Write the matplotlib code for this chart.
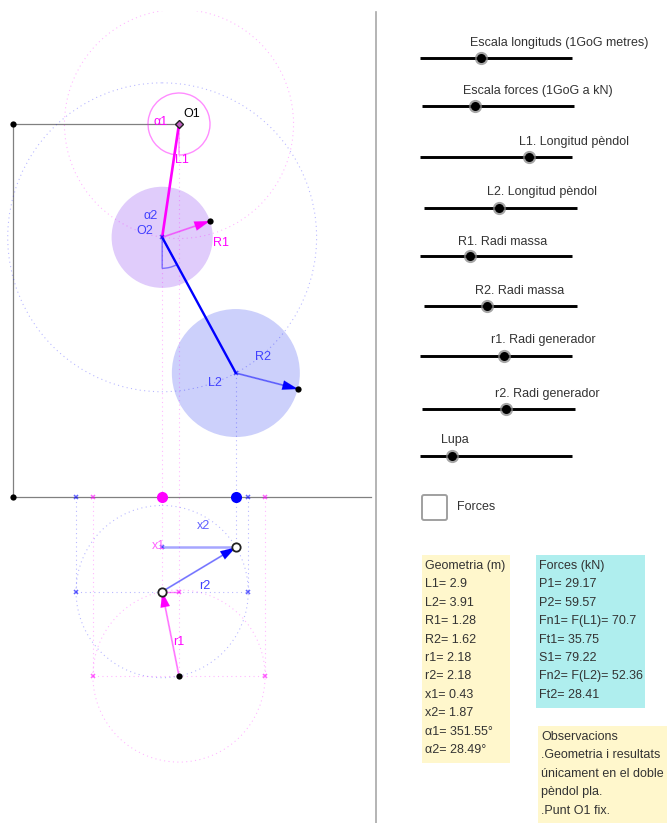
import numpy as np
from matplotlib import pyplot as plt
from matplotlib.patches import Circle, Rectangle, FancyArrowPatch, FancyBboxPatch, Wedge

plt.rcParams['font.family'] = ['Liberation Sans', 'DejaVu Sans']

# valors del pendol (llegits de les caixes)
L1, L2 = 2.9, 3.91
R1, R2 = 1.28, 1.62
r1, r2 = 2.18, 2.18
x1, x2 = 0.43, 1.87
alpha1, alpha2 = 351.55, 28.49

geometria = ['Geometria (m)', 'L1= 2.9', 'L2= 3.91', 'R1= 1.28', 'R2= 1.62', 'r1= 2.18',
             'r2= 2.18', 'x1= 0.43', 'x2= 1.87', 'α1= 351.55°', 'α2= 28.49°']
forces = ['Forces (kN)', 'P1= 29.17', 'P2= 59.57', 'Fn1= F(L1)= 70.7', 'Ft1= 35.75',
          'S1= 79.22', 'Fn2= F(L2)= 52.36', 'Ft2= 28.41']
observacions = ['Observacions', '.Geometria i resultats', 'únicament en el doble',
                'pèndol pla.', '.Punt O1 fix.']

slider_labels = ['Escala longituds (1GoG metres)', 'Escala forces (1GoG a kN)',
                 'L1. Longitud pèndol', 'L2. Longitud pèndol', 'R1. Radi massa',
                 'R2. Radi massa', 'r1. Radi generador', 'r2. Radi generador', 'Lupa']
slider_values = [0.40, 0.35, 0.72, 0.49, 0.33, 0.41, 0.55, 0.55, 0.21]

# posicio dels controls
slider_x0 = [420, 422, 420, 424, 420, 424, 420, 422, 420]
slider_x1 = [572, 574, 572, 577, 572, 577, 572, 575, 572]
slider_y = [58, 106, 157, 208, 256, 306, 356, 409, 456]
label_x = [470, 463, 519, 487, 458, 475, 491, 495, 441]
label_y = [43, 91, 142, 192, 242, 291, 340, 394, 440]

PINK = '#ff00ff'
BLUE = '#0000ff'
GREY = '#808080'
DOT = (0, (1, 3))
FS = 9.0
scale = 39.5  # pixels per metre

fig = plt.figure(figsize=(6.67, 8.23), dpi=100)
ax = fig.add_axes([0, 0, 1, 1])
ax.set_xlim(0, 667)
ax.set_ylim(823, 0)
ax.axis('off')


def dotted_circle(c, r, color):
    p = Circle(c, r, fill=False, ec=color, lw=0.8, ls=DOT, alpha=0.28, zorder=2)
    ax.add_patch(p)
    p.set_clip_path(Rectangle((0, 11), 376, 812, transform=ax.transData))


def dotted_line(a, b, color):
    ax.plot([a[0], b[0]], [a[1], b[1]], color=color, lw=0.8, ls=DOT, alpha=0.28, zorder=2)


def arrow(a, b, color, lw=1.3, alpha=0.45):
    ax.plot([a[0], b[0]], [a[1], b[1]], color=color, lw=lw, alpha=alpha, zorder=5)
    ax.add_patch(FancyArrowPatch(a, b, arrowstyle='-|>,head_length=0.85,head_width=0.26',
                                 mutation_scale=13, color=color, lw=0.1,
                                 shrinkA=0, shrinkB=0, zorder=5))


def cross(p, color):
    ax.plot(p[0], p[1], marker='x', ms=3.5, mew=1.1, color=color, alpha=0.6, zorder=6)


def dot(p, size=4.5, color='black'):
    ax.plot(p[0], p[1], marker='o', ms=size, color=color, mec='none', zorder=7)


def ring(p):
    ax.plot(p[0], p[1], marker='o', ms=6, mfc='white', mec='#222222', mew=1.3, zorder=7)


# geometria a partir dels valors
O1 = np.array([179.0, 124.0])
a1 = np.radians(alpha1)
a2 = np.radians(alpha2)
O2 = O1 + scale * L1 * np.array([np.sin(a1), np.cos(a1)])
M2 = O2 + scale * L2 * np.array([np.sin(a2), np.cos(a2)])
R1_end = np.array([210.0, 221.0])
R2_end = np.array([298.0, 389.0])
base_y = 497.0
corner = np.array([13.0, 124.0])
gen1 = np.array([O1[0], 676.0])
gen2 = np.array([O2[0], gen1[1] - np.sqrt((scale * r1) ** 2 - (scale * x1) ** 2)])
P2 = np.array([M2[0], gen2[1] - np.sqrt((scale * r2) ** 2 - (scale * x2) ** 2)])
rad1 = scale * r1
rad2 = scale * r2

# separador
ax.plot([376, 376], [12, 823], color='#a8a8a8', lw=1.2, zorder=1)

# eixos
ax.plot([13, 371], [base_y, base_y], color=GREY, lw=0.9, zorder=2)
ax.plot([13, O1[0]], [124, 124], color=GREY, lw=0.9, zorder=2)
ax.plot([13, 13], [124, base_y], color=GREY, lw=0.9, zorder=2)

# masses
ax.add_patch(Circle(O2, scale * R1, fc='#e0ccfb', ec='none', zorder=1))
ax.add_patch(Circle(M2, scale * R2, fc='#ccd0fb', ec='none', zorder=1))

# cercles de traç
dotted_circle(O1, scale * L1, PINK)
dotted_circle(O2, scale * L2, BLUE)
dotted_circle(gen1, rad1, PINK)
dotted_circle(gen2, rad2, BLUE)

# linies de projeccio
dotted_line(O2, (O2[0], gen2[1]), PINK)
dotted_line(O1, gen1, PINK)
dotted_line(M2, P2, BLUE)
for xx in [gen2[0] - rad2, gen2[0] + rad2]:
    dotted_line((xx, base_y), (xx, gen2[1]), BLUE)
    cross((xx, base_y), BLUE)
    cross((xx, gen2[1]), BLUE)
for xx in [gen1[0] - rad1, gen1[0] + rad1]:
    dotted_line((xx, base_y), (xx, gen1[1]), PINK)
    cross((xx, base_y), PINK)
    cross((xx, gen1[1]), PINK)
dotted_line((gen2[0] - rad2, gen2[1]), (gen2[0] + rad2, gen2[1]), BLUE)
dotted_line((gen1[0] - rad1, gen1[1]), (gen1[0] + rad1, gen1[1]), PINK)

# angles: l'eix y va cap avall, l'angle creix en sentit horari a la pantalla
ax.add_patch(Wedge(O1, 31, 360 - alpha1 + 90, 450, fc='none', ec=PINK, lw=1.0, alpha=0.45, zorder=3))
ax.add_patch(Wedge(O2, 31, 90 - alpha2, 90, fc='none', ec=BLUE, lw=1.0, alpha=0.45, zorder=3))

# barres
ax.plot([O1[0], O2[0]], [O1[1], O2[1]], color=PINK, lw=1.9, zorder=4, solid_capstyle='round')
ax.plot([O2[0], M2[0]], [O2[1], M2[1]], color=BLUE, lw=1.7, zorder=4, solid_capstyle='round')

# radis i generadors
arrow(O2, R1_end, PINK)
arrow(M2, R2_end, BLUE)
arrow(gen1, gen2, PINK)
arrow(gen2, P2, BLUE)
ax.plot([gen2[0], P2[0]], [P2[1], P2[1]], color=BLUE, lw=1.8, alpha=0.35, zorder=4)
ax.plot([gen2[0], gen1[0]], [gen2[1], gen2[1]], color=PINK, lw=1.0, alpha=0.5, zorder=4)
cross((gen2[0], P2[1]), BLUE)
cross((gen1[0], gen2[1]), PINK)
cross(O2, BLUE)
cross(M2, BLUE)

# punts
dot(corner)
dot((13, base_y))
dot(R1_end)
dot(R2_end)
dot(gen1)
dot((gen2[0], base_y), 8, PINK)
dot((P2[0], base_y), 8, BLUE)
ring(gen2)
ring(P2)
ax.plot(O1[0], O1[1], marker='D', ms=4, mfc='#c060c0', mec='#222222', mew=1.0, zorder=7)

# etiquetes
notes = [('O1', 183, 114, 'black'), ('α1', 154, 122, PINK), ('L1', 175, 160, PINK),
         ('α2', 143, 216, '#4040ff'), ('O2', 136, 231, '#4040ff'), ('R1', 213, 243, PINK),
         ('R2', 255, 357, '#4040ff'), ('L2', 208, 383, '#4040ff'), ('x2', 197, 526, '#6060ff'),
         ('x1', 152, 546, '#ff60ff'), ('r2', 199, 586, '#4040ff'), ('r1', 173, 642, PINK)]
for txt, xx, yy, col in notes:
    ax.text(xx, yy, txt, color=col, fontsize=FS, va='center', ha='left', zorder=8)

# sliders
for i, lab in enumerate(slider_labels):
    x0, x1s = slider_x0[i], slider_x1[i]
    yy = slider_y[i]
    ax.plot([x0, x1s], [yy, yy], color='black', lw=2.1, zorder=3, solid_capstyle='butt')
    kx = x0 + slider_values[i] * (x1s - x0)
    ax.plot(kx, yy, marker='o', ms=9.5, color='#808080', mec='none', alpha=0.7, zorder=4)
    ax.plot(kx, yy, marker='o', ms=6.5, color='black', mec='none', zorder=5)
    ax.text(label_x[i], label_y[i], lab, fontsize=FS, color='#333333', va='center', ha='left')

# casella
ax.add_patch(FancyBboxPatch((422, 495), 25, 25, boxstyle='round,pad=0,rounding_size=2',
                            fc='white', ec='#a0a0a0', lw=1.4))
ax.text(457, 507, 'Forces', fontsize=FS, color='#333333', va='center', ha='left')

# caixes de resultats
ax.add_patch(Rectangle((422, 555), 88, 208, fc='#fff7cc', ec='none'))
ax.add_patch(Rectangle((536, 555), 109, 153, fc='#afeeee', ec='none'))
ax.add_patch(Rectangle((538, 726), 129, 97, fc='#fff7cc', ec='none'))
for i, s in enumerate(geometria):
    ax.text(425, 566 + i * 18.4, s, fontsize=FS, color='#333333', va='center', ha='left')
for i, s in enumerate(forces):
    ax.text(539, 566 + i * 18.4, s, fontsize=FS, color='#333333', va='center', ha='left')
for i, s in enumerate(observacions):
    ax.text(541, 737 + i * 18.4, s, fontsize=FS, color='#333333', va='center', ha='left')

plt.savefig('out.png', dpi=100)
